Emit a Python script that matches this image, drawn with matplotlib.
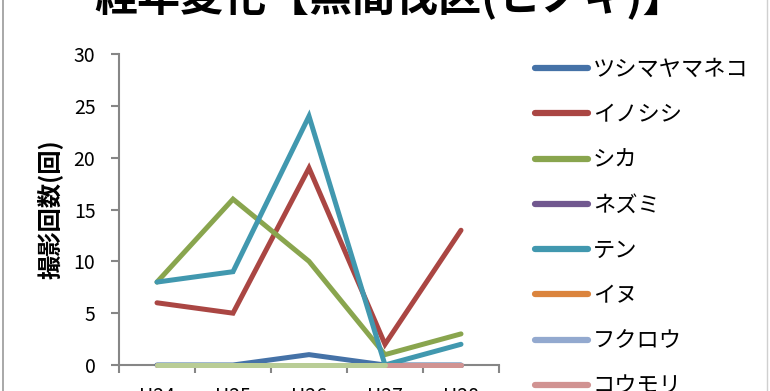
import numpy as np
import matplotlib
matplotlib.use("Agg")
import matplotlib.pyplot as plt
from matplotlib.lines import Line2D

plt.rcParams['font.family'] = ['Noto Sans CJK JP', 'DejaVu Sans']

years = ['H24', 'H25', 'H26', 'H27', 'H28']
names = ['ツシマヤマネコ', 'イノシシ', 'シカ', 'ネズミ', 'テン', 'イヌ', 'フクロウ', 'コウモリ']
tsushima = [0, 0, 1, 0, 0]
inoshishi = [6, 5, 19, 2, 13]
shika = [8, 16, 10, 1, 3]
nezumi = [0, 0, 0, 0, 0]
ten = [8, 9, 24, 0, 2]
inu = [0, 0, 0, 0, 0]
fukurou = [0, 0, 0, 0, 0]
koumori = [0, 0, 0, 0, 0]
# 9th series whose legend entry is cut off below the picture
extra = [0, 0, 0, 0, np.nan]

series = [tsushima, inoshishi, shika, nezumi, ten, inu, fukurou, koumori]
colors = ['#4572A7', '#AA4643', '#89A54E', '#71588F', '#4198AF',
          '#DB843D', '#93A9CF', '#D19392']

fig = plt.figure(figsize=(7.7, 3.91), dpi=100)
ax = fig.add_axes([119 / 770, 26 / 391, 380 / 770, 311 / 391])

x = np.arange(len(years))
for vals, name, c in zip(series, names, colors):
    ax.plot(x, vals, color=c, lw=3.6, label=name, solid_capstyle='round',
            solid_joinstyle='miter', clip_on=False, zorder=3)
ax.plot(x, extra, color='#B9CD96', lw=3.6, label='_nolegend_',
        solid_capstyle='round', clip_on=False, zorder=3)

ax.set_xlim(-0.5, 4.5)
ax.set_ylim(0, 30)
ax.set_yticks(range(0, 31, 5))
ax.set_xticks(np.arange(-0.5, 5, 1), minor=False)
ax.set_xticklabels([])
ax.set_xticks(x, minor=True)
ax.set_xticklabels(years, minor=True)
ax.tick_params(axis='x', which='minor', length=0, pad=15, labelsize=14)
ax.tick_params(axis='x', which='major', direction='out', length=6,
               width=1.5, color='#868686')
ax.tick_params(axis='y', direction='out', length=6, width=1.5,
               color='#868686', pad=11, labelsize=14)
for s in ['top', 'right']:
    ax.spines[s].set_visible(False)
for s in ['left', 'bottom']:
    ax.spines[s].set_color('#868686')
    ax.spines[s].set_linewidth(1.5)

ax.set_ylabel('撮影回数(回)', fontsize=17.5, fontweight='bold', labelpad=8)

fig.text(390 / 770, 1 - 11 / 391, '経年変化【無間伐区(ヒノキ)】',
         ha='center', va='baseline', fontsize=31, fontweight='bold')

leg = fig.legend(loc='upper left', bbox_to_anchor=(535 / 770, 1 - 58 / 391),
                 frameon=False, fontsize=16, handlelength=2.4,
                 handletextpad=0.2, borderpad=0, borderaxespad=0,
                 labelspacing=1.0)
for h in leg.get_lines():
    h.set_linewidth(4.5)
    h.set_solid_capstyle('round')

fig.add_artist(Line2D([2.5 / 770, 2.5 / 770], [0, 1], color='#9a9a9a', lw=1.2))
fig.add_artist(Line2D([767 / 770, 767 / 770], [0, 1], color='#d0d0d0', lw=1.0))

fig.savefig('out.png', dpi=100)
